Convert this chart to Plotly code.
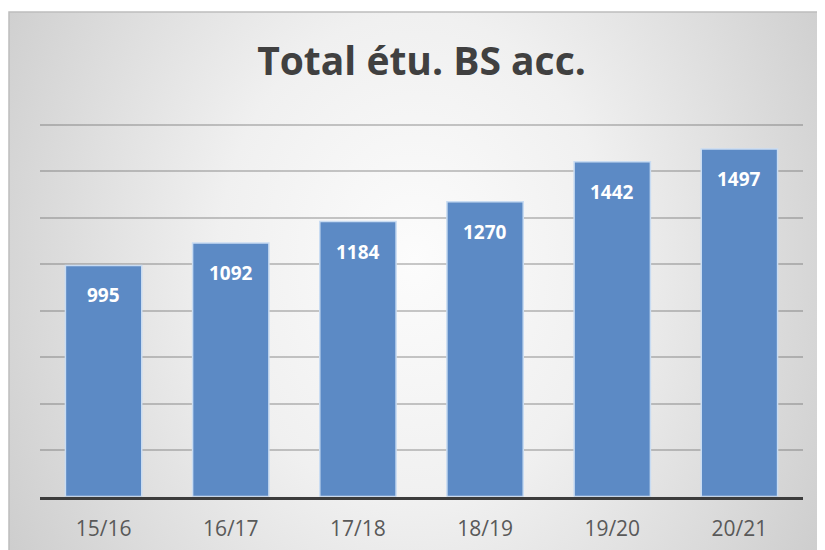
from plotly import graph_objs as go

# valeurs
annees = ['15/16', '16/17', '17/18', '18/19', '19/20', '20/21']
effectifs = [995, 1092, 1184, 1270, 1442, 1497]

titre = 'Total étu. BS acc.'
police = 'Open Sans'

# la page ajoute une marge de 8px autour du graphique
OFF = 8
W, H = 825 - OFF, 550 - OFF


def fx(px):
    return (px - OFF) / W


def fy(py):
    return 1 - (py - OFF) / H


fig = go.Figure()

# fond du graphique: degrade radial (comme dans Excel), plus grand que la zone
# pour que le centre clair soit large; le surplus est coupe par les axes
fig.add_trace(go.Scatter(x=[-0.19, 1.19, 1.19, -0.19, -0.19], y=[-0.76, -0.76, 1.84, 1.84, -0.76],
                         mode='lines', fill='toself',
                         fillgradient=dict(type='radial',
                                           colorscale=[[0, '#fcfcfc'], [0.35, '#f0f0f0'], [1, '#c2c2c2']]),
                         line=dict(width=0),
                         hoverinfo='skip', showlegend=False,
                         xaxis='x', yaxis='y'))

# barres
fig.add_trace(go.Bar(x=annees, y=effectifs,
                     marker=dict(color='#5c8ac5', line=dict(color='#c9dcf2', width=1.5)),
                     hoverinfo='x+y', showlegend=False,
                     xaxis='x2', yaxis='y2'))

# etiquettes de valeurs dans le haut des barres
for a, v in zip(annees, effectifs):
    fig.add_annotation(x=a, y=v, xref='x2', yref='y2', text=str(v),
                       showarrow=False, yanchor='top', yshift=-15,
                       font=dict(family=police, size=19, color='white', weight='bold'))

# cadre du graphique
fig.add_shape(type='rect', xref='paper', yref='paper',
              x0=fx(9), x1=fx(820), y0=-0.01, y1=fy(12),
              line=dict(color='#bdbdbd', width=1.5), layer='above')

fig.update_layout(
    width=W, height=H,
    margin=dict(l=0, r=0, t=0, b=0),
    paper_bgcolor='white',
    plot_bgcolor='rgba(0,0,0,0)',
    bargap=0.4,
    title=dict(text=titre, x=fx(421.5), xanchor='center',
               y=fy(61), yanchor='middle',
               font=dict(family=police, size=39, color='#404040', weight='bold')),
    xaxis=dict(domain=[fx(9), fx(820)], range=[0, 1], visible=False, fixedrange=True),
    yaxis=dict(domain=[0, fy(12)], range=[0, 1], visible=False, fixedrange=True),
    xaxis2=dict(domain=[fx(40), fx(803)], anchor='y2',
                showline=True, linecolor='#3c3c3c', linewidth=3,
                ticks='outside', ticklen=11, tickcolor='rgba(0,0,0,0)',
                tickfont=dict(family=police, size=21, color='#595959'),
                showgrid=False),
    yaxis2=dict(domain=[fy(496.5), fy(122.7)], anchor='x2',
                range=[0, 1610], dtick=200,
                showticklabels=False, zeroline=False,
                gridcolor='rgba(90,90,90,0.33)', gridwidth=1.5),
)

fig.write_html("out.html")
